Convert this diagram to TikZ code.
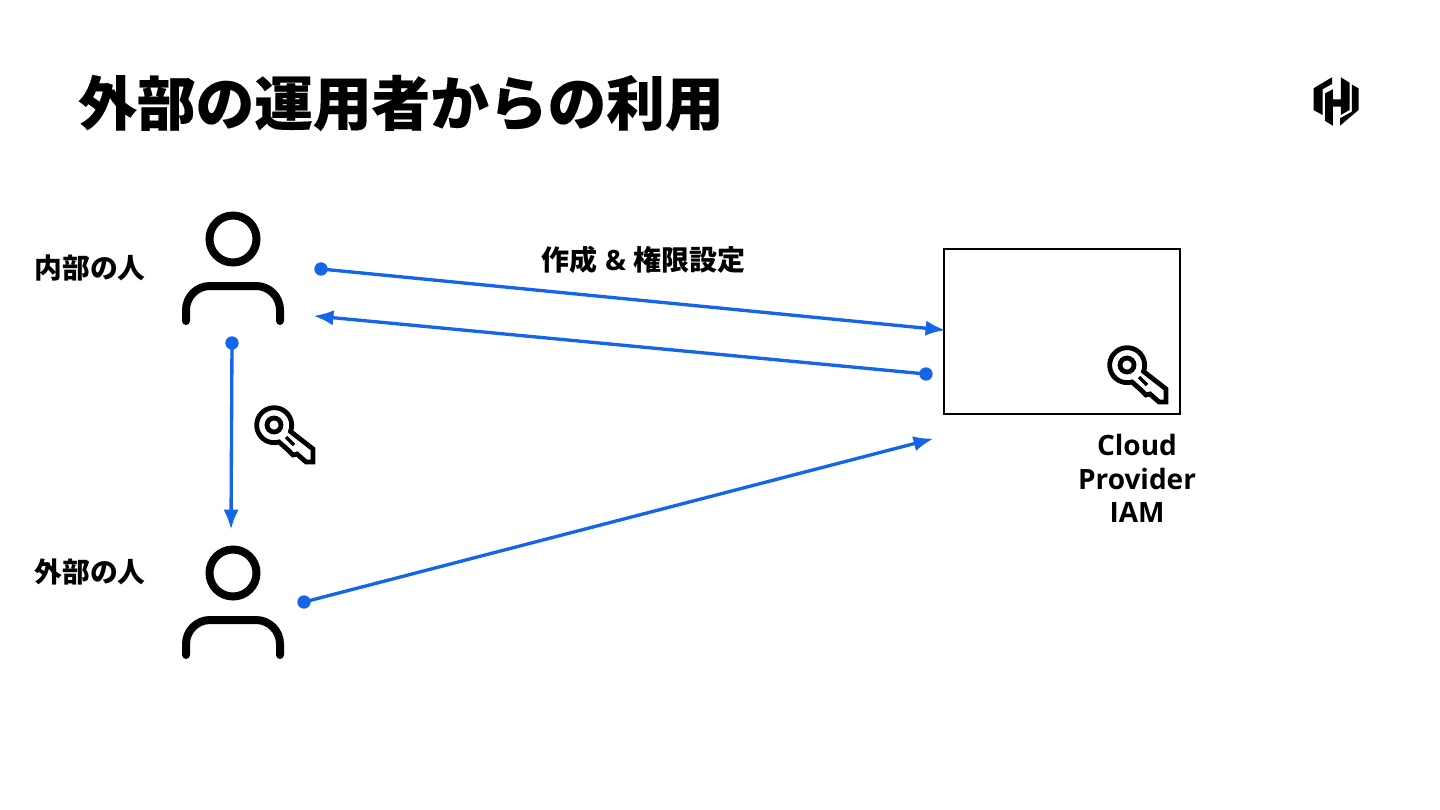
\documentclass[tikz,border=0pt]{standalone}
\usepackage{fontspec}
\setmainfont{Open Sans}
\newfontfamily\cjk{Noto Sans CJK JP}
\newfontfamily\cjkheavy[BoldFeatures={FakeBold=0.25}]{Noto Sans CJK JP}
\usetikzlibrary{arrows.meta}
\definecolor{linkblue}{HTML}{1565EA}

\begin{document}
\begin{tikzpicture}[
    x=0.75pt, y=-0.75pt,
    arr/.style={-{Latex[length=15pt, width=11.5pt]}, line width=2.5pt, linkblue, shorten >=-1.2pt},
    dot/.style={circle, fill=linkblue, inner sep=0pt, minimum size=10pt},
    label/.style={font=\cjk\bfseries\fontsize{20.8}{24}\selectfont, inner sep=0pt},
    iam/.style={draw, line width=1.1pt, minimum width=177pt, minimum height=124pt, inner sep=0pt},
    person/.pic={
        \draw[line width=6pt] (0,0) circle[radius=23.5];
        \draw[line width=6pt, line cap=round, rounded corners=18pt] (-47,82) -- (-47,47) -- (47,47) -- (47,82);
    },
    keyicon/.pic={
        \draw[line width=3.6pt, line join=miter] (5,17) arc[start angle=74, end angle=381, radius=17.5]
            -- (39,24) -- (39,37) -- (32,37) -- (23,29) -- (19,30) -- (14,25) -- cycle;
        \draw[line width=3.6pt] (0,0) circle[radius=7];
        \draw[line width=2.6pt] (12,12) -- (20,20);
    },
    logo/.pic={
        \fill (-22.5,-12.7) -- (-4,-23.7) -- (-4,-17) -- (-13.5,-11.7) -- (-13.5,14) -- (-22.5,9) -- cycle;
        \fill (-10.8,-7.7) -- (-3.2,-11.7) -- (-3.2,-1.7) -- (4.8,-1.7) -- (4.8,-23.7) -- (13.5,-18.3)
              -- (13.5,9) -- (4.8,14) -- (4.8,5.7) -- (-3.2,5.7) -- (-3.2,24.7) -- (-10.8,20) -- cycle;
        \fill (22.5,-12.7) -- (22.5,9) -- (4,24.7) -- (4,17.3) -- (15.8,10.7) -- (15.8,-16.5) -- cycle;
    }
]

\useasboundingbox (0,0) rectangle (1440,810);

%% ---- Title and logo ----
\node[font=\cjkheavy\bfseries\fontsize{44}{50}\selectfont, anchor=west, inner sep=0pt] at (78,103) (title) {外部の運用者からの利用};
\pic at (1336,101) {logo};

%% ---- People ----
\pic at (233,239) {person};
\pic at (233,573) {person};
\node[label] at (90,268) (inner) {内部の人};
\node[label] at (90,572) (outer) {外部の人};

%% ---- Cloud provider box ----
\node[iam] at (1062,331.5) (cloud) {};
\pic at (1127,365) {keyicon};
\pic at (274,425) {keyicon};
\node[font=\bfseries\fontsize{21}{25.2}\selectfont, align=center, inner sep=0pt] at (1137,478.5) (cloudlabel) {Cloud\\Provider\\IAM};

%% ---- Arrow ends ----
\node[dot] at (321,269) (innerout) {};
\node[dot] at (926,374) (cloudout) {};
\node[dot] at (232,343) (innerdown) {};
\node[dot] at (304,602) (outerout) {};
\coordinate (cloudin) at (944,330);
\coordinate (innerin) at (315,316);
\coordinate (outerin) at (231,528);
\coordinate (cloudnear) at (932,439);

%% ---- Arrows ----
% create and grant
\draw[arr] (innerout.center) -- (cloudin);
\node[font=\bfseries\fontsize{21}{24}\selectfont, inner sep=0pt] at (643.5,260) (grant) {{\cjk 作成} \& {\cjk 権限設定}};
% key comes back
\draw[arr] (cloudout.center) -- (innerin);
% handed over
\draw[arr] (innerdown.center) -- (outerin);
% external use
\draw[arr] (outerout.center) -- (cloudnear);

\end{tikzpicture}
\end{document}
